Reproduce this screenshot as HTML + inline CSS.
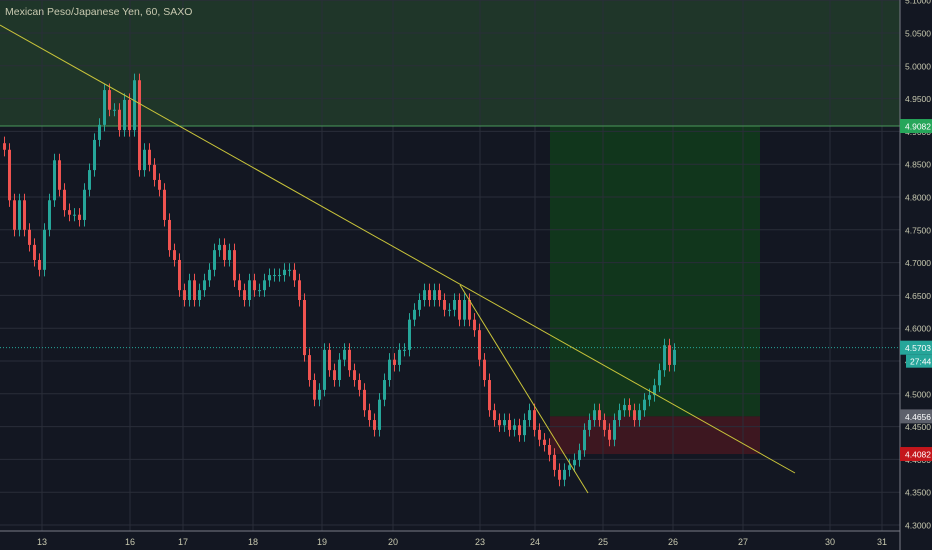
<!DOCTYPE html>
<html><head><meta charset="utf-8"><style>
body{margin:0;background:#131722;overflow:hidden}
svg{display:block;font-family:"Liberation Sans",sans-serif}
</style></head><body>
<svg id="c" width="932" height="550" viewBox="0 0 932 550">
<rect x="0" y="0" width="932" height="550" fill="#131722"/>
<g id="zones"></g>
<g id="grid"></g>
<g id="candles"></g>
<g id="lines"></g>
<g id="axis"></g>
<text x="5" y="15" fill="#c8c9b0" font-size="10.5">Mexican Peso/Japanese Yen, 60, SAXO</text>
</svg>
<script>
const closes=[4.872,4.795,4.750,4.795,4.750,4.727,4.704,4.689,4.750,4.795,4.856,4.811,4.780,4.773,4.773,4.765,4.811,4.841,4.887,4.910,4.963,4.933,4.933,4.902,4.948,4.902,4.978,4.841,4.872,4.849,4.826,4.811,4.765,4.719,4.704,4.658,4.643,4.673,4.643,4.658,4.673,4.689,4.719,4.727,4.704,4.719,4.673,4.658,4.643,4.673,4.658,4.658,4.673,4.681,4.681,4.681,4.689,4.689,4.673,4.643,4.559,4.521,4.491,4.506,4.567,4.536,4.521,4.552,4.567,4.536,4.521,4.506,4.475,4.460,4.445,4.491,4.521,4.552,4.544,4.567,4.567,4.613,4.628,4.643,4.658,4.643,4.658,4.643,4.628,4.628,4.643,4.613,4.643,4.613,4.597,4.552,4.521,4.475,4.460,4.452,4.460,4.445,4.452,4.437,4.460,4.475,4.445,4.430,4.422,4.407,4.384,4.369,4.384,4.391,4.399,4.414,4.445,4.460,4.475,4.460,4.445,4.430,4.460,4.475,4.483,4.475,4.460,4.475,4.491,4.498,4.513,4.536,4.574,4.544,4.567];
const priceTicks=[4.30,4.35,4.40,4.45,4.50,4.55,4.60,4.65,4.70,4.75,4.80,4.85,4.90,4.95,5.00,5.05,5.10];
const dateLabels=["13","16","17","18","19","20","23","24","25","26","27","30","31"];
const datePos=[42,130,183,253,322,393,480,535,603,673,743,830,882];
const levels=[4.9082,4.4656,4.4082];
const lastPrice=4.5703;
const NS="http://www.w3.org/2000/svg";
const Y=p=>525-(p-4.30)*656;
const X=i=>3+i*5;
function mk(t,a,parent){const e=document.createElementNS(NS,t);for(const k in a)e.setAttribute(k,a[k]);document.getElementById(parent).appendChild(e);return e;}
let z=mk('rect',{x:0,y:0,width:900,height:Y(levels[0]),fill:'#1f3629'},'zones');


z=mk('rect',{x:550,y:Y(levels[0]),width:210,height:Y(levels[1])-Y(levels[0]),fill:'#11361c'},'zones');


z=mk('rect',{x:550,y:Y(levels[1]),width:210,height:Y(levels[2])-Y(levels[1]),fill:'#3d1720'},'zones');


priceTicks.forEach(p=>{const l=mk('line',{x1:0,x2:900,y1:Y(p),y2:Y(p),stroke:'#2a2e39','stroke-width':1},'grid');

});
datePos.forEach(x=>{const l=mk('line',{x1:x,x2:x,y1:0,y2:531,stroke:'#2a2e39','stroke-width':1},'grid');

});
let gl=mk('line',{x1:0,x2:900,y1:Y(levels[0]),y2:Y(levels[0]),stroke:'#4a9a5a','stroke-width':1},'grid');


gl=mk('line',{x1:0,x2:900,y1:Y(lastPrice),y2:Y(lastPrice),stroke:'#26a69a','stroke-width':1,'stroke-dasharray':'1 2'},'grid');


closes.forEach((c,i)=>{const o=i?closes[i-1]:c+0.01;const up=c>=o;const col=up?'#26a69a':'#ef5350';
const hi=Math.max(o,c)+0.01,lo=Math.min(o,c)-0.01;
const w=mk('line',{x1:X(i)+1.5,x2:X(i)+1.5,y1:Y(hi),y2:Y(lo),stroke:col,'stroke-width':1},'candles');


const b=mk('rect',{x:X(i),y:Y(Math.max(o,c)),width:3,height:Math.max(1,Math.abs(Y(o)-Y(c))),fill:col},'candles');

});
let t=mk('line',{x1:0,y1:25,x2:795,y2:473,stroke:'#c9c43a','stroke-width':1},'lines');


t=mk('line',{x1:460,y1:285,x2:588,y2:493,stroke:'#c9c43a','stroke-width':1},'lines');


let a=mk('rect',{x:900,y:0,width:32,height:550,fill:'#131722'},'axis');


a=mk('line',{x1:900,x2:900,y1:0,y2:550,stroke:'#787b86','stroke-width':1},'axis');


a=mk('line',{x1:0,x2:900,y1:531,y2:531,stroke:'#787b86','stroke-width':1},'axis');


priceTicks.forEach(p=>{const tx=mk('text',{x:905,y:Y(p)+3.5,fill:'#c8c9b0','font-size':8.5},'axis');tx.textContent=p.toFixed(4);

});
dateLabels.forEach((d,i)=>{const tx=mk('text',{x:datePos[i],y:545,fill:'#c8c9b0','font-size':9,'text-anchor':'middle'},'axis');tx.textContent=d;

});
const tags=[[levels[0],'#26a65a','#fff',levels[0].toFixed(4)],[lastPrice,'#26a69a','#fff',lastPrice.toFixed(4)],[levels[1],'#5d606b','#fff',levels[1].toFixed(4)],[levels[2],'#c4161c','#fff',levels[2].toFixed(4)]];
tags.forEach(([p,bg,fg,s])=>{const r=mk('rect',{x:900,y:Y(p)-7,width:32,height:14,fill:bg},'axis');


const tx=mk('text',{x:905,y:Y(p)+3.5,fill:fg,'font-size':8.5},'axis');tx.textContent=s;

});
const cr=mk('rect',{x:906,y:Y(lastPrice)+7,width:26,height:13,fill:'#26a69a'},'axis');


const ct=mk('text',{x:910,y:Y(lastPrice)+17,fill:'#fff','font-size':8.5},'axis');ct.textContent='27:44';


</script>
</body></html>
